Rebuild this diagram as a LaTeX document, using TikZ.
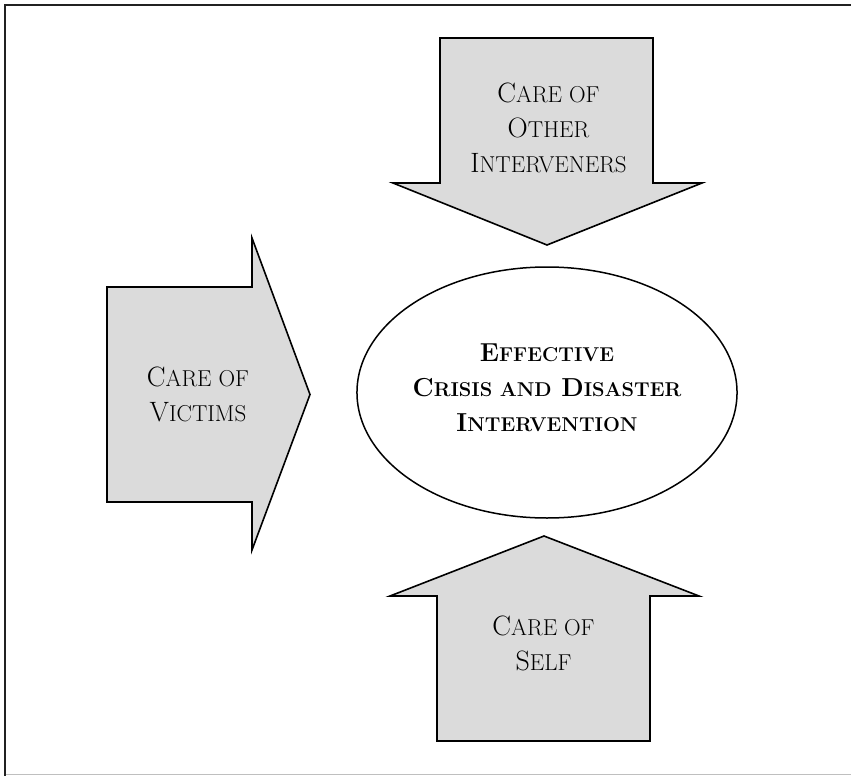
\documentclass[tikz,border=0pt]{standalone}
\usetikzlibrary{shapes.geometric}

\definecolor{arrowgray}{gray}{0.86}
\definecolor{framegray}{gray}{0.13}
\newcommand{\lowcap}[1]{{\fontsize{23}{35}\selectfont #1}}
\newcommand{\lowcapbf}[1]{{\fontsize{20}{35}\selectfont #1}}

\begin{document}
\begin{tikzpicture}[x=1pt, y=-1pt,
						bigarrow/.style = {draw, fill=arrowgray, line width=1.6pt, line join=miter},
						caption/.style = {align=center, inner sep=0pt, font=\fontsize{28}{35}\selectfont},
						goal/.style = {ellipse, draw, line width=1.5pt, align=center, inner sep=0pt,
										minimum width=376pt, minimum height=251pt,
										font=\bfseries\fontsize{26}{35}\selectfont}
						]
						\useasboundingbox (0,0) rectangle (851,776);

						% --- Marco ---
						\draw[framegray, line width=2pt] (5,776) -- (5,5) -- (851,5);
						\draw[gray!50, line width=1pt] (6,774.5) -- (851,774.5);

						% --- Flechas ---
						\draw[bigarrow] (440,38) -- (653,38) -- (653,183) -- (702,183) -- (547,245) -- (393,183) -- (440,183) -- cycle;
						\draw[bigarrow] (107,287) -- (252,287) -- (252,238) -- (310,394.5) -- (252,550) -- (252,502) -- (107,502) -- cycle;
						\draw[bigarrow] (437,741) -- (437,596) -- (390,596) -- (544,536) -- (699,596) -- (650,596) -- (650,741) -- cycle;

						% --- Textos ---
						\node[caption] (others) at (548.5,127.5) {C\lowcap{ARE OF}\\O\lowcap{THER}\\I\lowcap{NTERVENERS}};
						\node[caption] (victims) at (198,394.5) {C\lowcap{ARE OF}\\V\lowcap{ICTIMS}};
						\node[caption] (self) at (543.5,643.5) {C\lowcap{ARE OF}\\S\lowcap{ELF}};

						% --- Centro ---
						\node[goal] (intervention) at (547,392.5) {E\lowcapbf{FFECTIVE}\\C\lowcapbf{RISIS AND} D\lowcapbf{ISASTER}\\I\lowcapbf{NTERVENTION}\rule[-10pt]{0pt}{10pt}};

					\end{tikzpicture}
\end{document}
